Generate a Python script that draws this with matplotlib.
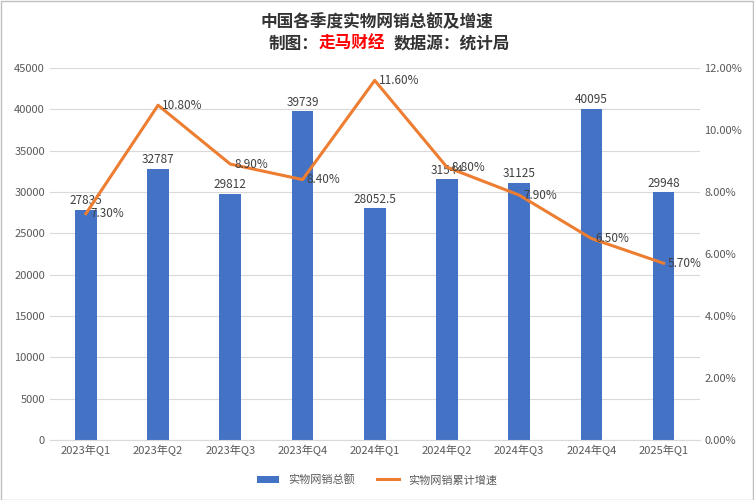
import matplotlib
matplotlib.use("Agg")
import matplotlib.pyplot as plt
from matplotlib.ticker import FuncFormatter

plt.rcParams['font.family'] = ['Noto Sans CJK SC', 'DejaVu Sans']

categories = ["2023年Q1", "2023年Q2", "2023年Q3", "2023年Q4", "2024年Q1",
              "2024年Q2", "2024年Q3", "2024年Q4", "2025年Q1"]
sales = [27835, 32787, 29812, 39739, 28052.5, 31544, 31125, 40095, 29948]
sales_labels = ["27835", "32787", "29812", "39739", "28052.5", "31544", "31125", "40095", "29948"]
growth = [7.3, 10.8, 8.9, 8.4, 11.6, 8.8, 7.9, 6.5, 5.7]

fig = plt.figure(figsize=(7.54, 5.0), dpi=100)
ax = fig.add_axes([0.066, 0.12, 0.862, 0.744])
x = range(len(categories))
bars = ax.bar(x, sales, width=0.3, color="#4472C4", label="实物网销总额", zorder=2)
ax.set_ylim(0, 45000)
ax.set_yticks(range(0, 45001, 5000))
ax.set_xlim(-0.5, len(categories) - 0.5)
ax.set_xticks(list(x))
ax.set_xticklabels(categories)
ax.grid(axis='y', color="#d9d9d9", lw=0.8, zorder=0)
for s in ["top", "right", "left"]:
    ax.spines[s].set_visible(False)
ax.spines["bottom"].set_color("#d9d9d9")
ax.tick_params(length=0, labelsize=8, colors="#595959")
for i, (v, t) in enumerate(zip(sales, sales_labels)):
    ax.text(i, v + 300, t, ha="center", va="bottom", fontsize=8.5, color="#404040")

ax2 = ax.twinx()
ln, = ax2.plot(list(x), growth, color="#ED7D31", lw=2.2, label="实物网销累计增速", zorder=3)
ax2.set_ylim(0, 12)
ax2.set_yticks(range(0, 13, 2))
ax2.yaxis.set_major_formatter(FuncFormatter(lambda v, p: f"{v:.2f}%"))
for s in ["top", "right", "left", "bottom"]:
    ax2.spines[s].set_visible(False)
ax2.tick_params(length=0, labelsize=8, colors="#595959")
for i, g in enumerate(growth):
    ax2.text(i + 0.06, g, f"{g:.2f}%", ha="left", va="center", fontsize=8.5, color="#404040")

fig.legend([bars, ln], ["实物网销总额", "实物网销累计增速"], loc="center",
           bbox_to_anchor=(0.5, 0.04), ncol=2, frameon=False, fontsize=8,
           handlelength=2, labelcolor="#595959")

fig.text(0.5, 0.955, "中国各季度实物网销总额及增速", ha="center", va="center",
         fontsize=12, fontweight="bold", color="#333333")
y2 = 0.912
fig.text(0.423, y2, "制图：", ha="right", va="center", fontsize=12, fontweight="bold", color="#333333")
fig.text(0.423, y2, "走马财经", ha="left", va="center", fontsize=12, fontweight="bold", color="#FF0000")
fig.text(0.522, y2, "数据源：统计局", ha="left", va="center", fontsize=12, fontweight="bold", color="#333333")

fig.patches.append(plt.Rectangle((0.001, 0.001), 0.998, 0.998, transform=fig.transFigure,
                                 fill=False, edgecolor="#bfbfbf", lw=1))
fig.savefig("out.png", dpi=100)
